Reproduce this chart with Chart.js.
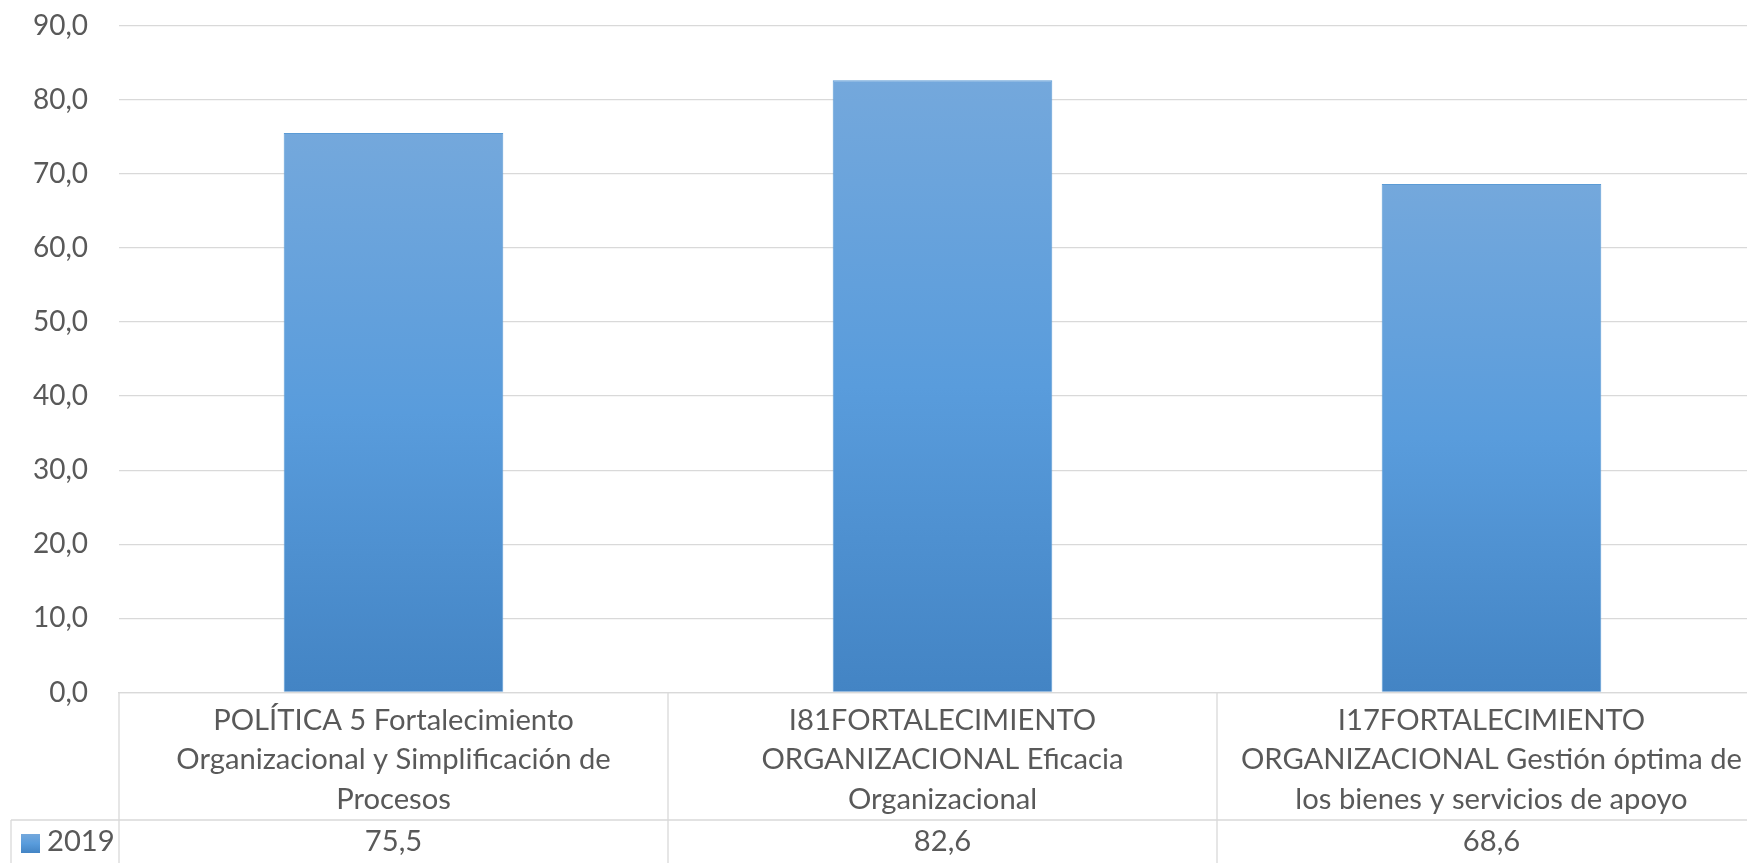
<!DOCTYPE html>
<html>
<head>
<meta charset="utf-8">
<script src="https://cdn.jsdelivr.net/npm/chart.js@4.4.1/dist/chart.umd.min.js"></script>
<style>
  html, body { margin: 0; padding: 0; background: #fff; overflow: hidden; }
  #wrap { width: 1766px; height: 863px; position: relative; }
</style>
</head>
<body>
<div id="wrap"><canvas id="chart"></canvas></div>
<script>
// --- Data ---
const categories = [
  ['POLÍTICA 5 Fortalecimiento', 'Organizacional y Simplificación de', 'Procesos'],
  ['I81FORTALECIMIENTO', 'ORGANIZACIONAL Eficacia', 'Organizacional'],
  ['I17FORTALECIMIENTO', 'ORGANIZACIONAL Gestión óptima de', 'los bienes y servicios de apoyo']
];
const seriesName = '2019';
const values = [75.5, 82.6, 68.6];
const yMin = 0;
const yMax = 90;
const yStep = 10;

// --- Style ---
const FONT = 'Lato';
const TICK_SIZE = 28;     // y axis labels
const CAT_SIZE = 29.2;    // table text
const TEXT = '#595959';
const LINE = '#d9d9d9';
const ROW_Y = 820;      // line between category row and value row
const VALUE_Y = 842;    // value row text centre
const LEFT_EDGE = 11;   // left border of the legend cell

const fmt = v => Number(v).toFixed(1).replace('.', ',');

const barGradient = (c, top, base) => {
  const g = c.createLinearGradient(0, top, 0, base);
  g.addColorStop(0, '#74a8dc');
  g.addColorStop(0.5, '#599cdc');
  g.addColorStop(1, '#4384c4');
  return g;
};

// draws the data table under the axis (grid lines, legend key, values)
const dataTable = {
  id: 'dataTable',
  afterDraw(chart) {
    const { ctx, chartArea, scales: { x } } = chart;
    const top = chartArea.bottom;
    const bottom = chart.height;
    const half = (x.getPixelForValue(1) - x.getPixelForValue(0)) / 2;

    ctx.save();
    ctx.strokeStyle = LINE;
    ctx.lineWidth = 1.3;
    ctx.beginPath();
    ctx.moveTo(LEFT_EDGE, ROW_Y); ctx.lineTo(x.right, ROW_Y);
    ctx.moveTo(LEFT_EDGE, ROW_Y); ctx.lineTo(LEFT_EDGE, bottom);
    values.forEach((v, i) => {
      const px = x.getPixelForValue(i) - half;
      ctx.moveTo(px, top); ctx.lineTo(px, bottom);
    });
    ctx.stroke();

    // values row
    ctx.fillStyle = TEXT;
    ctx.font = CAT_SIZE + 'px ' + FONT;
    ctx.textAlign = 'center';
    ctx.textBaseline = 'middle';
    values.forEach((v, i) => ctx.fillText(fmt(v), x.getPixelForValue(i), VALUE_Y));

    // legend key + series name
    ctx.fillStyle = barGradient(ctx, 834, 853);
    ctx.fillRect(21, 834, 19, 19);
    ctx.fillStyle = TEXT;
    ctx.textAlign = 'left';
    ctx.fillText(seriesName, 47, 842);
    ctx.restore();
  }
};

new Chart(document.getElementById('chart'), {
  type: 'bar',
  data: {
    labels: categories,
    datasets: [{
      label: seriesName,
      data: values,
      backgroundColor(c) {
        const chart = c.chart;
        const y = chart.scales.y;
        if (c.type !== 'data' || !y || !chart.chartArea) return '#5b9bd5';
        return barGradient(chart.ctx, y.getPixelForValue(values[c.dataIndex]), y.getPixelForValue(0));
      },
      borderColor: '#5b9bd5',
      borderWidth: 1,
      barPercentage: 0.4,
      categoryPercentage: 1
    }]
  },
  options: {
    responsive: true,
    maintainAspectRatio: false,
    animation: false,
    layout: { padding: { top: 25.5, right: 0, bottom: 0, left: 0 } },
    plugins: { legend: { display: false }, tooltip: { enabled: false } },
    scales: {
      x: {
        grid: { display: false },
        border: { color: LINE, width: 1.3 },
        ticks: {
          color: TEXT,
          font: { family: FONT, size: CAT_SIZE, lineHeight: 39.5 / CAT_SIZE },
          padding: 0,
          maxRotation: 0,
          autoSkip: false
        },
        afterFit(s) { s.height = 170.5; }
      },
      y: {
        min: yMin,
        max: yMax,
        grid: { color: LINE, lineWidth: 1.3, drawTicks: false },
        border: { display: false },
        ticks: {
          stepSize: yStep,
          padding: 31,
          color: TEXT,
          font: { family: FONT, size: TICK_SIZE },
          callback: v => fmt(v)
        },
        // fixed axis width; drop the extra top/bottom room the tick padding would add
        afterFit(s) { s.width = 119; s.paddingTop = 0; s.paddingBottom = 0; }
      }
    }
  },
  plugins: [dataTable]
});
</script>
</body>
</html>
